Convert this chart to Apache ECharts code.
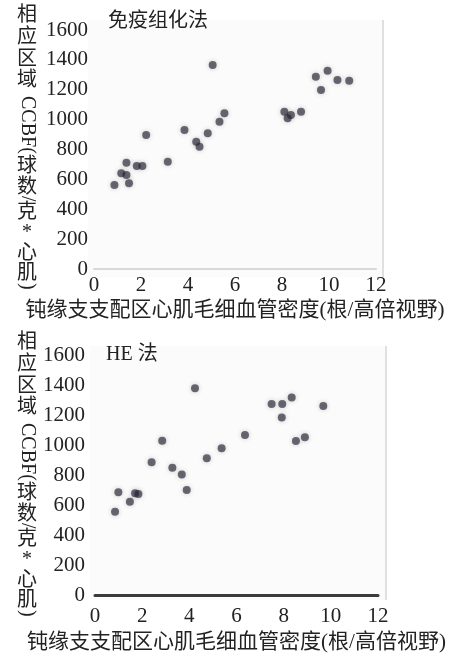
<!DOCTYPE html>
<html>
<head>
<meta charset="utf-8">
<script src="https://cdn.jsdelivr.net/npm/echarts@6/dist/echarts.min.js"></script>
<style>
  html, body { margin: 0; padding: 0; background: #fff; }
  #chart { width: 454px; height: 656px; }
</style>
</head>
<body>
<div id="chart"></div>
<script>
// --- data ---
const xTicks = [0, 2, 4, 6, 8, 10, 12];
const yTicks = [0, 200, 400, 600, 800, 1000, 1200, 1400, 1600];

// 免疫组化法 panel
const ihcDensity = [0.87, 1.16, 1.38, 1.49, 1.38, 1.82, 2.06, 2.22, 3.14, 3.85, 4.35, 4.49, 4.84,
  5.05, 5.34, 5.55, 8.10, 8.24, 8.38, 8.81, 9.44, 9.66, 9.94, 10.36, 10.86];
const ihcFlow = [562, 641, 629, 574, 712, 690, 690, 897, 718, 930, 852, 819, 908,
  1366, 986, 1042, 1053, 1009, 1031, 1053, 1287, 1198, 1327, 1265, 1260];

// HE 法 panel
const heDensity = [0.85, 0.99, 1.48, 1.70, 1.84, 2.40, 2.85, 3.28, 3.68, 3.89, 4.24, 4.74, 5.37,
  6.36, 7.49, 7.94, 8.34, 7.92, 8.52, 8.90, 9.68];
const heFlow = [555, 685, 622, 678, 673, 885, 1029, 849, 804, 700, 1378, 911, 978,
  1067, 1273, 1273, 1316, 1184, 1027, 1051, 1260];

const panelTitles = ['免疫组化法', 'HE 法'];
const xName = '钝缘支支配区心肌毛细血管密度(根/高倍视野)';

// --- styling ---
const FONT = "'Liberation Serif', 'Times New Roman', 'DejaVu Serif', 'Noto Sans CJK SC', serif";
const INK = '#222';

const chart = echarts.init(document.getElementById('chart'), null, { renderer: 'canvas' });

function pairs(xs, ys) {
  return xs.map((x, i) => [x, ys[i]]);
}

// vertical y-axis name: CJK upright, latin rotated (like vertical typesetting)
function yNameGraphic(top) {
  const parts = [
    { t: '相\n应\n区\n域', y: 5, rot: false, lh: 21.7 },
    { t: 'CCBF(', y: 96, rot: true },
    { t: '球\n数', y: 156, rot: false, lh: 21 },
    { t: '/', y: 196, rot: true },
    { t: '克\n*\n心\n肌', y: 202, rot: false, lh: 20.5 },
    { t: ')', y: 283, rot: true }
  ];
  return parts.map(p => ({
    type: 'text',
    x: 27,
    y: top + p.y,
    rotation: p.rot ? -Math.PI / 2 : 0,
    style: {
      text: p.t,
      fill: INK,
      fontSize: 20,
      fontFamily: FONT,
      align: p.rot ? 'left' : 'center',
      verticalAlign: p.rot ? 'middle' : 'top',
      lineHeight: p.lh || 20
    }
  }));
}

const grids = [
  { left: 94, top: 30, width: 282, height: 239 },
  { left: 95, top: 355, width: 283, height: 240 }
];

const plainNumber = v => String(v);

function xAxisFor(i, lineColor, lineWidth, labelMargin, nameGap) {
  return {
    type: 'value', gridIndex: i, min: xTicks[0], max: xTicks[xTicks.length - 1], interval: xTicks[1] - xTicks[0],
    axisLine: { show: true, onZero: false, lineStyle: { color: lineColor, width: lineWidth } },
    axisTick: { show: false },
    splitLine: { show: false },
    axisLabel: { color: INK, fontFamily: FONT, fontSize: 21, margin: labelMargin, formatter: plainNumber },
    name: xName,
    nameLocation: 'middle',
    nameGap: nameGap,
    nameTextStyle: { color: INK, fontFamily: FONT, fontSize: 21, verticalAlign: 'top' }
  };
}

function yAxisFor(i, labelMargin) {
  return {
    type: 'value', gridIndex: i, min: yTicks[0], max: yTicks[yTicks.length - 1], interval: yTicks[1] - yTicks[0],
    axisLine: { show: false },
    axisTick: { show: false },
    splitLine: { show: false },
    axisLabel: { color: INK, fontFamily: FONT, fontSize: 21, margin: labelMargin, formatter: plainNumber }
  };
}

const dotStyle = {
  color: 'rgba(35,35,50,0.82)',
  shadowBlur: 5,
  shadowColor: 'rgba(0,0,0,0.3)'
};

chart.setOption({
  backgroundColor: '#fff',
  animation: false,
  grid: grids,
  xAxis: [
    xAxisFor(0, '#d9d9d9', 2, 6, 31),
    xAxisFor(1, '#3a3a3a', 3, 11, 37)
  ],
  yAxis: [yAxisFor(0, 6), yAxisFor(1, 10)],
  series: [
    {
      type: 'scatter', xAxisIndex: 0, yAxisIndex: 0,
      data: pairs(ihcDensity, ihcFlow),
      symbolSize: 8, itemStyle: dotStyle
    },
    {
      type: 'scatter', xAxisIndex: 1, yAxisIndex: 1,
      data: pairs(heDensity, heFlow),
      symbolSize: 8, itemStyle: dotStyle
    }
  ],
  graphic: [
    // faint plot backgrounds and right edges, as in the scan
    { type: 'rect', z: -10, shape: { x: 88, y: 20, width: 295, height: 257 }, style: { fill: '#fbfbfb' } },
    { type: 'line', z: -9, shape: { x1: 383, y1: 20, x2: 383, y2: 277 }, style: { stroke: '#e0e0e0', lineWidth: 2 } },
    { type: 'rect', z: -10, shape: { x: 90, y: 346, width: 297, height: 254 }, style: { fill: '#fbfbfb' } },
    { type: 'line', z: -9, shape: { x1: 386, y1: 346, x2: 386, y2: 600 }, style: { stroke: '#e0e0e0', lineWidth: 2 } },
    {
      type: 'text', x: 108, y: 12,
      style: { text: panelTitles[0], fill: INK, fontSize: 20, fontFamily: FONT }
    },
    {
      type: 'text', x: 106, y: 345,
      style: { text: panelTitles[1], fill: INK, fontSize: 20, fontFamily: FONT }
    }
  ].concat(yNameGraphic(0), yNameGraphic(327))
});
</script>
</body>
</html>
